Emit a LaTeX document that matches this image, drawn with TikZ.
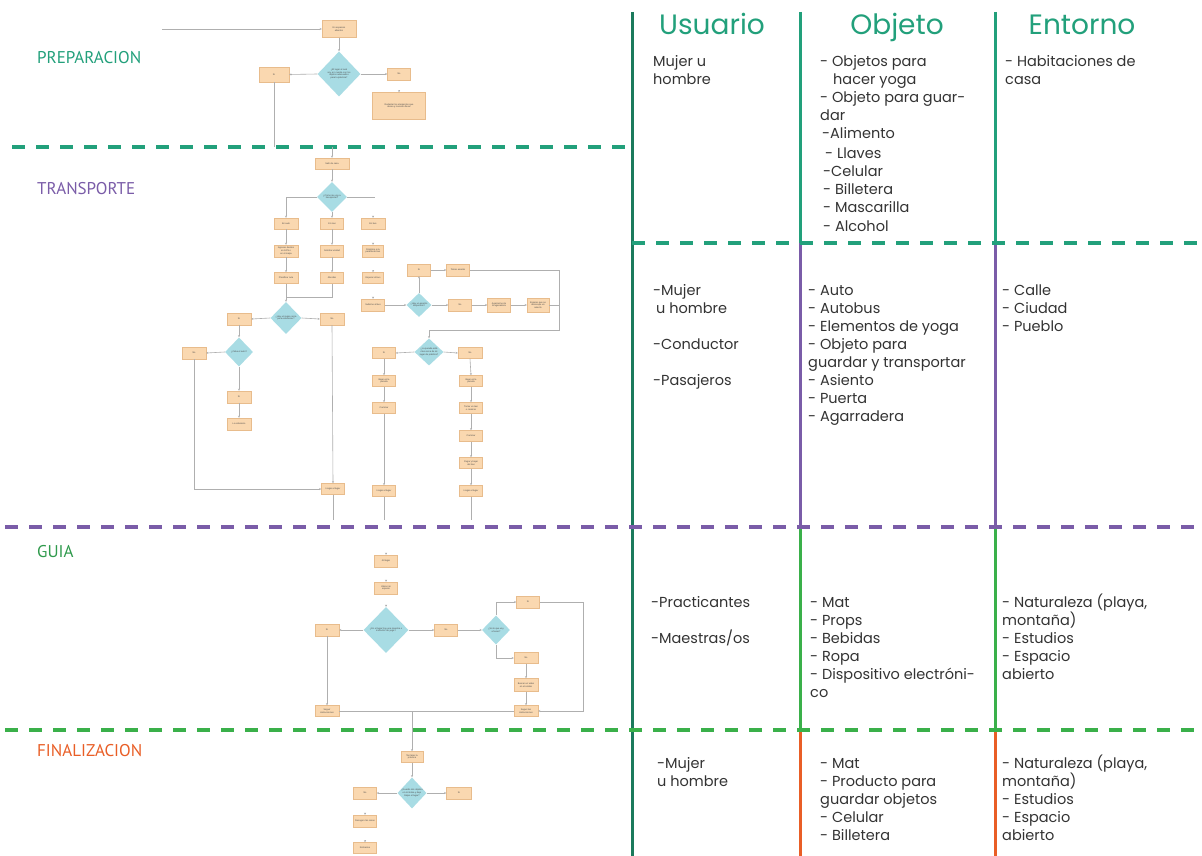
\documentclass[tikz,border=0pt]{standalone}
\usepackage{fontspec}
\setmainfont{Poppins}
\newfontfamily\labfont{PT Sans}
\newfontfamily\flowfont{Liberation Sans}
\usetikzlibrary{shapes.geometric,arrows.meta}
\definecolor{teal1}{HTML}{22A07B}
\definecolor{dkgreen}{HTML}{1B7A5C}
\definecolor{purp}{HTML}{7A5CA8}
\definecolor{grn}{HTML}{3AB04A}
\definecolor{labgrn}{HTML}{2F9A4C}
\definecolor{orng}{HTML}{E95E26}
\definecolor{boxfill}{HTML}{FAD8B0}
\definecolor{boxline}{HTML}{E8BC8C}
\definecolor{diafill}{HTML}{A8DCE4}
\definecolor{conn}{HTML}{AFAFAF}
\definecolor{txtc}{HTML}{333333}
\tikzset{
  bx/.style={rectangle, fill=boxfill, draw=boxline, line width=0.4pt, inner sep=0.3pt, align=center,
    font=\flowfont\fontsize{2.3}{2.7}\selectfont, text=black!70},
  dia/.style={diamond, fill=diafill, draw=none, inner sep=0pt, align=center,
    font=\flowfont\fontsize{2.3}{2.7}\selectfont, text=black!70},
  ln/.style={draw=conn, line width=0.6pt},
  ar/.style={ln, -{Stealth[length=2.2pt,width=2pt]}},
  dsh/.style={line width=4pt, dash pattern=on 13pt off 11pt},
  vl/.style={line width=3pt},
  txt/.style={anchor=base west, inner sep=0pt, text=txtc, font=\fontsize{14.5}{18}\selectfont},
  head/.style={anchor=base, inner sep=0pt, text=teal1, font=\fontsize{28}{30}\selectfont},
  lab/.style={anchor=base west, inner sep=0pt, font=\labfont\fontsize{17}{20}\selectfont}
}
\begin{document}
\begin{tikzpicture}[x=1pt,y=-1pt]
\useasboundingbox (0,0) rectangle (1202,856);
\fill[white] (0,0) rectangle (1202,856);

% ---------- table lines ----------
\draw[vl, dkgreen] (632,12) -- (632,856);
\foreach \xx in {800,995}{
  \draw[vl, teal1] (\xx,12) -- (\xx,243);
  \draw[vl, purp] (\xx,243) -- (\xx,527);
  \draw[vl, grn] (\xx,527) -- (\xx,730);
  \draw[vl, orng] (\xx,730) -- (\xx,856);
}
\draw[dsh, teal1] (12,147) -- (632,147);
\draw[dsh, teal1] (632,243) -- (1202,243);
\draw[dsh, purp] (5,527) -- (1202,527);
\draw[dsh, grn] (5,730) -- (1202,730);

% ---------- headers ----------
\node[head] (hu) at (712,35) {Usuario};
\node[head] (ho) at (897,35) {Objeto};
\node[head] (he) at (1082,35) {Entorno};

% ---------- section labels ----------
\node[lab, text=teal1] (lp) at (37,64) {PREPARACION};
\node[lab, text=purp] (lt) at (37,194) {TRANSPORTE};
\node[lab, text=labgrn] (lg) at (37,557) {GUIA};
\node[lab, text=orng] (lf) at (37,756) {FINALIZACION};

% ---------- table text ----------
\foreach \x/\y/\t [count=\i] in {653/62/{Mujer u}, 653/80/{hombre}}
  \node[txt] (ua\i) at (\x,\y+5) {\t};
\foreach \x/\y/\t [count=\i] in {820/62/{- Objetos para}, 833/80/{hacer yoga}, 820/98/{- Objeto para guar-},
  820/116/{dar}, 822/134/{-Alimento}, 825/153/{- Llaves}, 823/171/{-Celular}, 823/189/{- Billetera},
  823/207/{- Mascarilla}, 823/226/{- Alcohol}}
  \node[txt] (oa\i) at (\x,\y+5) {\t};
\foreach \x/\y/\t [count=\i] in {1005/62/{- Habitaciones de}, 1005/80/{casa}}
  \node[txt] (ea\i) at (\x,\y+5) {\t};

\foreach \x/\y/\t [count=\i] in {653/290/{-Mujer}, 656/308/{u hombre}, 653/344/{-Conductor}, 653/380/{-Pasajeros}}
  \node[txt] (ub\i) at (\x,\y+5) {\t};
\foreach \x/\y/\t [count=\i] in {808/290/{- Auto}, 808/308/{- Autobus}, 808/326/{- Elementos de yoga},
  808/344/{- Objeto para}, 808/362/{guardar y transportar}, 808/380/{- Asiento}, 808/398/{- Puerta},
  808/416/{- Agarradera}}
  \node[txt] (ob\i) at (\x,\y+5) {\t};
\foreach \x/\y/\t [count=\i] in {1002/290/{- Calle}, 1002/308/{- Ciudad}, 1002/326/{- Pueblo}}
  \node[txt] (eb\i) at (\x,\y+5) {\t};

\foreach \x/\y/\t [count=\i] in {651/602/{-Practicantes}, 651/638/{-Maestras/os}}
  \node[txt] (uc\i) at (\x,\y+5) {\t};
\foreach \x/\y/\t [count=\i] in {810/602/{- Mat}, 810/620/{- Props}, 810/638/{- Bebidas}, 810/656/{- Ropa},
  810/674/{- Dispositivo electróni-}, 810/692/{co}}
  \node[txt] (oc\i) at (\x,\y+5) {\t};
\foreach \x/\y/\t [count=\i] in {1002/602/{- Naturaleza (playa,}, 1002/620/{montaña)}, 1002/638/{- Estudios},
  1002/656/{- Espacio}, 1002/674/{abierto}}
  \node[txt] (ec\i) at (\x,\y+5) {\t};

\foreach \x/\y/\t [count=\i] in {657/763/{-Mujer}, 657/781/{u hombre}}
  \node[txt] (ud\i) at (\x,\y+5) {\t};
\foreach \x/\y/\t [count=\i] in {820/763/{- Mat}, 820/781/{- Producto para}, 820/799/{guardar objetos},
  820/817/{- Celular}, 820/835/{- Billetera}}
  \node[txt] (od\i) at (\x,\y+5) {\t};
\foreach \x/\y/\t [count=\i] in {1002/763/{- Naturaleza (playa,}, 1002/781/{montaña)}, 1002/799/{- Estudios},
  1002/817/{- Espacio}, 1002/835/{abierto}}
  \node[txt] (ed\i) at (\x,\y+5) {\t};

% ================= PREPARACION flow =================
\coordinate (p0) at (162,29);
\node[bx, minimum width=34pt, minimum height=17pt] (p1) at (339,29) {En espacios\\abiertos};
\node[dia, minimum width=43pt, minimum height=45pt] (pd) at (339,74) {¿El lugar al cual\\voy a ir cuenta con los\\objetos adecuados\\para la práctica?};
\node[bx, minimum width=30pt, minimum height=15pt] (ps) at (274,74.5) {Si};
\node[bx, minimum width=23pt, minimum height=12pt] (pn) at (399,74) {No};
\node[bx, minimum width=53pt, minimum height=27pt] (pr) at (399,106) {Redactar los elementos que\\deseo y necesito llevar};
\coordinate (pe) at (274,147);
\draw[ar] (p0) -- (p1.west);
\draw[ar] (p1.south) -- (pd.north);
\draw[ar] (pd.west) -- (ps.east);
\draw[ar] (pd.east) -- (pn.west);
\draw[ar] ([yshift=2pt]pr.north) -- (pr.north);
\draw[ln] (ps.south) -- (pe);

% ================= TRANSPORTE flow =================
\coordinate (t0) at (332,147);
\node[bx, minimum width=34pt, minimum height=11pt] (t1) at (332,163.5) {Salir de casa};
\node[dia, minimum width=30pt, minimum height=30pt] (td) at (332,197) {¿Cómo me voy a\\transportar?};
\node[bx, minimum width=24pt, minimum height=11pt] (ta) at (286,223.5) {En auto};
\node[bx, minimum width=23pt, minimum height=11pt] (tt) at (332,223.5) {En taxi};
\node[bx, minimum width=24pt, minimum height=11pt] (tb) at (373,223.5) {En bus};
\coordinate (tdr) at (375,197);
\draw[ar] (t0) -- (t1.north);
\draw[ar] (t1.south) -- (td.north);
\draw[ar] (td.west) -| (ta.north);
\draw[ar] (td.south) -- (tt.north);
\draw[ln] (td.east) -- (tdr);
\draw[ar] ([yshift=2pt]tb.north) -- (tb.north);

\node[bx, minimum width=24pt, minimum height=12pt] (ta2) at (286,251) {Ingresar destino\\en GPS o\\en el mapa};
\node[bx, minimum width=23pt, minimum height=12pt] (tt2) at (332,251) {Solicitar unidad};
\node[bx, minimum width=21pt, minimum height=12pt] (tb2) at (373,251) {Dirigirme a la\\parada de bus};
\node[bx, minimum width=24pt, minimum height=11pt] (ta3) at (286,278) {Planificar ruta};
\node[bx, minimum width=23pt, minimum height=11pt] (tt3) at (332,278) {Abordar};
\node[bx, minimum width=21pt, minimum height=11pt] (tb3) at (373,278) {Esperar el bus};
\node[bx, minimum width=23pt, minimum height=12pt] (tb4) at (373,305) {Subirme al bus};
\draw[ar] (ta.south) -- (ta2.north);
\draw[ar] (ta2.south) -- (ta3.north);
\draw[ar] (tt.south) -- (tt2.north);
\draw[ar] (tt2.south) -- (tt3.north);
\draw[ar] ([yshift=2pt]tb2.north) -- (tb2.north);
\draw[ar] ([yshift=2pt]tb3.north) -- (tb3.north);
\draw[ar] ([yshift=2pt]tb4.north) -- (tb4.north);

% auto branch
\node[dia, minimum width=31pt, minimum height=32pt] (tad) at (286,318) {¿Hay un lugar cerca\\para estacionar?};
\coordinate (tj) at (286,297);
\draw[ar] (ta3.south) -- (tad.north);
\draw[ln] (tt3.south) |- (tj);
\node[bx, minimum width=24pt, minimum height=12pt] (tas) at (239,319) {Si};
\node[bx, minimum width=24pt, minimum height=12pt] (tan) at (332,319) {No};
\node[dia, minimum width=28pt, minimum height=29pt] (tcd) at (239,352) {¿Cabe el auto?};
\node[bx, minimum width=24pt, minimum height=12pt] (tcn) at (194,353) {No};
\node[bx, minimum width=24pt, minimum height=12pt] (tcs) at (239,397) {Si};
\node[bx, minimum width=24pt, minimum height=12pt] (tce) at (239,424) {Lo estaciono};
\node[bx, minimum width=23pt, minimum height=11pt] (tll) at (333,489) {Llegar al lugar};
\coordinate (tle) at (333,520);
\draw[ar] (tad.west) -- (tas.east);
\draw[ar] (tad.east) -- (tan.west);
\draw[ar] (tas.south) -- (tcd.north);
\draw[ar] (tcd.west) -- (tcn.east);
\draw[ar] (tcd.south) -- (tcs.north);
\draw[ar] (tcs.south) -- (tce.north);
\draw[ar] (tcn.south) |- (tll.west);
\draw[ar] (tan.south) -- (tll.north);
\draw[ln] (tll.south) -- (tle);

% bus branch
\node[dia, minimum width=25pt, minimum height=24pt] (tbd) at (419,305) {¿Hay un asiento\\disponible?};
\node[bx, minimum width=23pt, minimum height=12pt] (tbs) at (419,270) {Si};
\node[bx, minimum width=23pt, minimum height=12pt] (tba) at (458,270) {Tomar asiento};
\node[bx, minimum width=23pt, minimum height=12pt] (tbn) at (460,305) {No};
\node[bx, minimum width=23pt, minimum height=14pt] (tbg) at (499,305) {Agarrarme de\\la agarradera};
\node[bx, minimum width=22pt, minimum height=14pt] (tbe) at (538,305) {Esperar que se\\desocupe un\\asiento};
\node[dia, minimum width=29pt, minimum height=27pt] (td2) at (429,352) {¿La parada está\\más cerca de mi\\lugar de práctica?};
\coordinate (rt) at (559,330);
\draw[ar] (tb4.east) -- (tbd.west);
\draw[ar] (tbd.north) -- (tbs.south);
\draw[ar] (tbs.east) -- (tba.west);
\draw[ar] (tbd.east) -- (tbn.west);
\draw[ar] (tbn.east) -- (tbg.west);
\draw[ar] (tbg.east) -- (tbe.west);
\draw[ar] (tba.east) -| (rt) -| (td2.north);
\draw[ln] (tbe.east) -- (tbe.east -| rt);

\node[bx, minimum width=23pt, minimum height=11pt] (t2s) at (384,353) {Si};
\node[bx, minimum width=24pt, minimum height=11pt] (t2n) at (470,353) {No};
\node[bx, minimum width=23pt, minimum height=11pt] (s1) at (384,381) {Bajar en la\\parada};
\node[bx, minimum width=23pt, minimum height=11pt] (s2) at (384,408) {Caminar};
\node[bx, minimum width=23pt, minimum height=11pt] (s3) at (384,491) {Llegar al lugar};
\node[bx, minimum width=23pt, minimum height=11pt] (n1) at (471,381) {Bajar en la\\parada};
\node[bx, minimum width=23pt, minimum height=11pt] (n2) at (471,408) {Tomar un taxi\\o caminar};
\node[bx, minimum width=23pt, minimum height=11pt] (n3) at (471,436) {Caminar};
\node[bx, minimum width=23pt, minimum height=11pt] (n4) at (471,463) {Pagar y bajar\\del taxi};
\node[bx, minimum width=23pt, minimum height=11pt] (n5) at (471,491) {Llegar al lugar};
\coordinate (se) at (384,520);
\coordinate (ne) at (471,520);
\draw[ar] (td2.west) -- (t2s.east);
\draw[ar] (td2.east) -- (t2n.west);
\draw[ar] (t2s.south) -- (s1.north);
\draw[ar] (s1.south) -- (s2.north);
\draw[ar] (s2.south) -- (s3.north);
\draw[ln] (s3.south) -- (se);
\draw[ar] (t2n.south) -- (n1.north);
\draw[ar] (n1.south) -- (n2.north);
\draw[ar] (n2.south) -- (n3.north);
\draw[ar] (n3.south) -- (n4.north);
\draw[ar] (n4.south) -- (n5.north);
\draw[ln] (n5.south) -- (ne);

% ================= GUIA flow =================
\node[bx, minimum width=23pt, minimum height=12pt] (g1) at (386,561) {Al llegar};
\node[bx, minimum width=23pt, minimum height=12pt] (g2) at (386,588) {Ubicar mi\\espacio};
\node[dia, minimum width=45pt, minimum height=46pt] (gd) at (386,630) {¿En el lugar hay una maestra o\\instructor de yoga?};
\node[bx, minimum width=24pt, minimum height=12pt] (gs) at (327,630) {Si};
\node[bx, minimum width=23pt, minimum height=12pt] (gn) at (446,630) {No};
\node[dia, minimum width=28pt, minimum height=29pt] (gd2) at (496,630) {¿Sé lo que voy\\a hacer?};
\node[bx, minimum width=23pt, minimum height=12pt] (gs2) at (528,602) {Si};
\node[bx, minimum width=24pt, minimum height=11pt] (gn2) at (526,658) {No};
\node[bx, minimum width=24pt, minimum height=13pt] (gv) at (526,685) {Buscar un video\\en el celular};
\node[bx, minimum width=24pt, minimum height=11pt] (gi2) at (526,711) {Seguir las\\instrucciones};
\node[bx, minimum width=24pt, minimum height=11pt] (gi1) at (327,711) {Seguir\\instrucciones};
\coordinate (gr) at (583,711);
\coordinate (gm) at (412,711);
\draw[ar] ([yshift=2pt]g1.north) -- (g1.north);
\draw[ar] ([yshift=2pt]g2.north) -- (g2.north);
\draw[ar] ([yshift=2pt]gd.north) -- (gd.north);
\draw[ar] (gd.west) -- (gs.east);
\draw[ar] (gd.east) -- (gn.west);
\draw[ar] (gn.east) -- (gd2.west);
\draw[ar] (gd2.north) |- (gs2.west);
\draw[ar] (gd2.south) |- (gn2.west);
\draw[ar] (gn2.south) -- (gv.north);
\draw[ar] (gv.south) -- (gi2.north);
\draw[ar] (gs2.east) -| (gr) -- (gi2.east);
\draw[ar] (gs.south) -- (gi1.north);
\draw[ln] (gi1.east) -- (gi2.west);

% ================= FINALIZACION flow =================
\node[bx, minimum width=22pt, minimum height=11pt] (f1) at (412,757) {Terminar la\\práctica};
\node[dia, minimum width=29pt, minimum height=31pt] (fd) at (412,793) {¿Guardo mis objetos\\en mi bolsa y dejo\\limpio el lugar?};
\node[bx, minimum width=23pt, minimum height=12pt] (fn) at (365,793) {No};
\node[bx, minimum width=25pt, minimum height=12pt] (fs) at (459,793) {Si};
\node[bx, minimum width=23pt, minimum height=12pt] (fr) at (365,821) {Recoger mis cosas};
\node[bx, minimum width=23pt, minimum height=11pt] (fe) at (365,848) {Retirarme};
\draw[ar] (gm) -- (f1.north);
\draw[ar] (f1.south) -- (fd.north);
\draw[ar] (fd.west) -- (fn.east);
\draw[ar] (fd.east) -- (fs.west);
\draw[ar] ([yshift=2pt]fr.north) -- (fr.north);
\draw[ar] ([yshift=2pt]fe.north) -- (fe.north);
\end{tikzpicture}
\end{document}
